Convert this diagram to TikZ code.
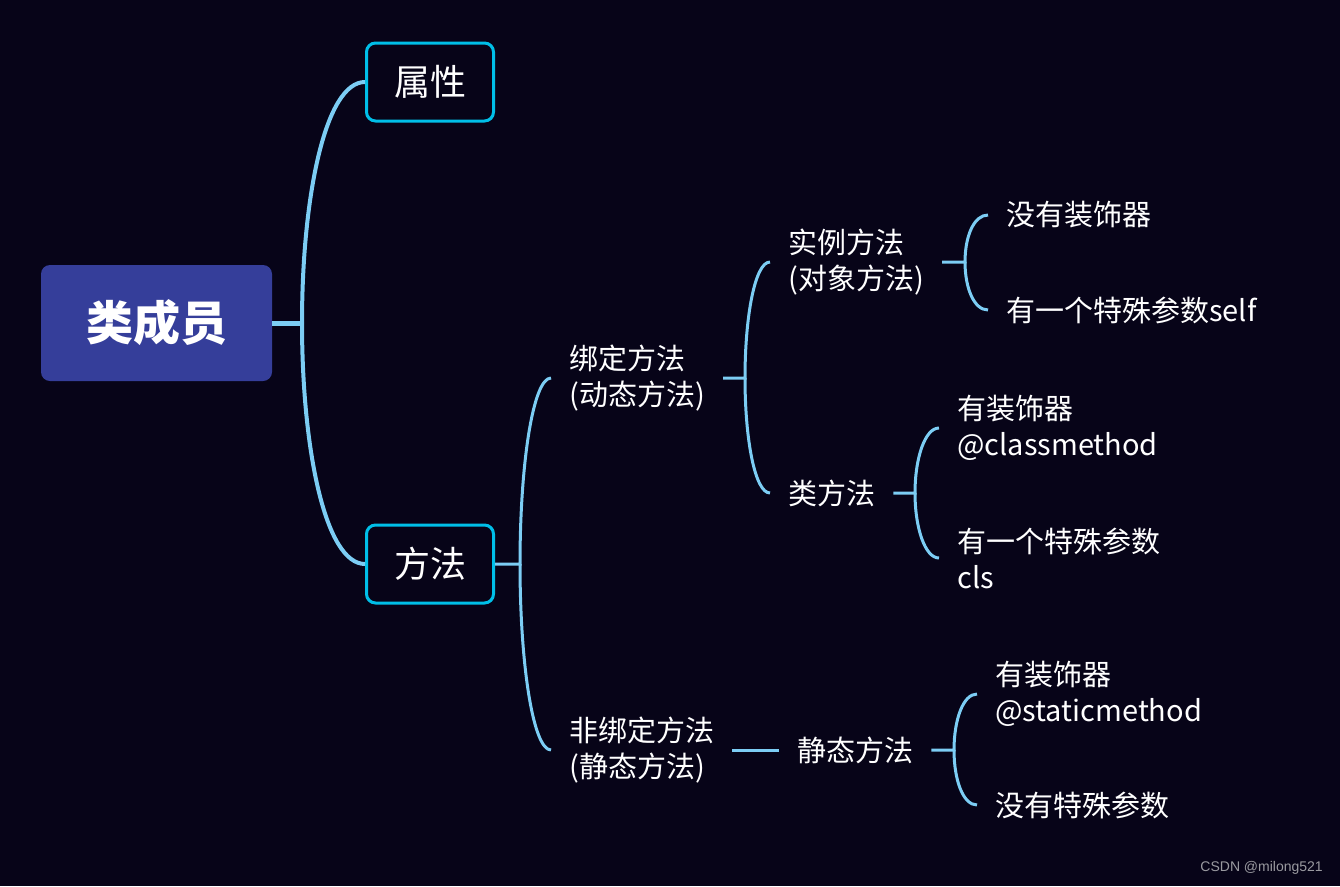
\documentclass[tikz,border=0pt]{standalone}
\usepackage{fontspec}
\setmainfont{Noto Sans CJK SC}
\newfontfamily\wmfont{Liberation Sans}
\definecolor{bg}{HTML}{070418}
\definecolor{rootfill}{HTML}{353E9A}
\definecolor{boxc}{HTML}{00BFE8}
\definecolor{linec}{HTML}{7CCDF4}
\definecolor{wm}{HTML}{9A9AA0}
\begin{document}
\begin{tikzpicture}[x=1pt,y=-1pt,
  rootnode/.style={fill=rootfill, rounded corners=9pt, minimum width=231pt, minimum height=116pt, inner sep=0pt, text=white, font=\fontsize{47}{50}\selectfont\bfseries},
  boxnode/.style={draw=boxc, line width=3pt, fill=bg, rounded corners=9pt, minimum width=127pt, minimum height=78pt, inner sep=0pt, text=white, font=\fontsize{36}{40}\selectfont},
  lbl/.style={anchor=west, inner xsep=18pt, inner ysep=0pt, align=left, text=white, font=\fontsize{29}{36}\selectfont},
  conn/.style={draw=linec, line width=3pt},
  connA/.style={draw=linec, line width=4pt},
  connR/.style={draw=linec, line width=5pt}]
\fill[bg] (0,0) rectangle (1340,886);
\useasboundingbox (0,0) rectangle (1340,886);

% nodes
\node[rootnode] (root) at (156.5,323) {类成员};
\node[boxnode] (shuxing) at (430,82) {属性};
\node[boxnode] (fangfa) at (430,564) {方法};

\node[lbl] (bd) at (551,378) {绑定方法\\(动态方法)};
\node[lbl] (fbd) at (551,750) {非绑定方法\\(静态方法)};

\node[lbl] (sl) at (770,262) {实例方法\\(对象方法)};
\node[lbl] (lf) at (770,493) {类方法};
\node[lbl] (jt) at (779,750) {静态方法};

\node[lbl] (l1) at (988,215) {没有装饰器};
\node[lbl] (l2) at (988,310) {有一个特殊参数self};
\node[lbl] (l3) at (939,428) {有装饰器\\@classmethod};
\node[lbl] (l4) at (939,558) {有一个特殊参数\\cls};
\node[lbl] (l5) at (977,694) {有装饰器\\@staticmethod};
\node[lbl] (l6) at (977,805) {没有特殊参数};

\node[anchor=east, inner sep=0pt, text=wm, font=\wmfont\fontsize{14}{16}\selectfont] (wmark) at (1323,868) {CSDN @milong521};

% branch points
\coordinate (r1) at (302,323);
\coordinate (f1) at (520,564);
\coordinate (b1) at (745,378);
\coordinate (b2) at (965,262);
\coordinate (b3) at (915,493);
\coordinate (b4) at (954,750);

% connectors
\draw[connR] (root.east) -- (r1);
\draw[connA] (r1) .. controls +(0,-125) and +(-40,0) .. (shuxing.west);
\draw[connA] (r1) .. controls +(0,125) and +(-40,0) .. (fangfa.west);

\draw[conn] (fangfa.east) -- (f1) .. controls +(0,-100) and +(-18,0) .. (bd.west);
\draw[conn] (f1) .. controls +(0,100) and +(-18,0) .. (fbd.west);

\draw[conn] (bd.east) -- (b1) .. controls +(0,-62) and +(-15,0) .. (sl.west);
\draw[conn] (b1) .. controls +(0,62) and +(-15,0) .. (lf.west);

\draw[conn] (fbd.east) -- (jt.west);

\draw[conn] (sl.east) -- (b2) .. controls +(0,-26) and +(-14,0) .. (l1.west);
\draw[conn] (b2) .. controls +(0,26) and +(-14,0) .. (l2.west);

\draw[conn] (lf.east) -- (b3) .. controls +(0,-35) and +(-14,0) .. (l3.west);
\draw[conn] (b3) .. controls +(0,35) and +(-14,0) .. (l4.west);

\draw[conn] (jt.east) -- (b4) .. controls +(0,-30) and +(-14,0) .. (l5.west);
\draw[conn] (b4) .. controls +(0,30) and +(-14,0) .. (l6.west);
\end{tikzpicture}
\end{document}
